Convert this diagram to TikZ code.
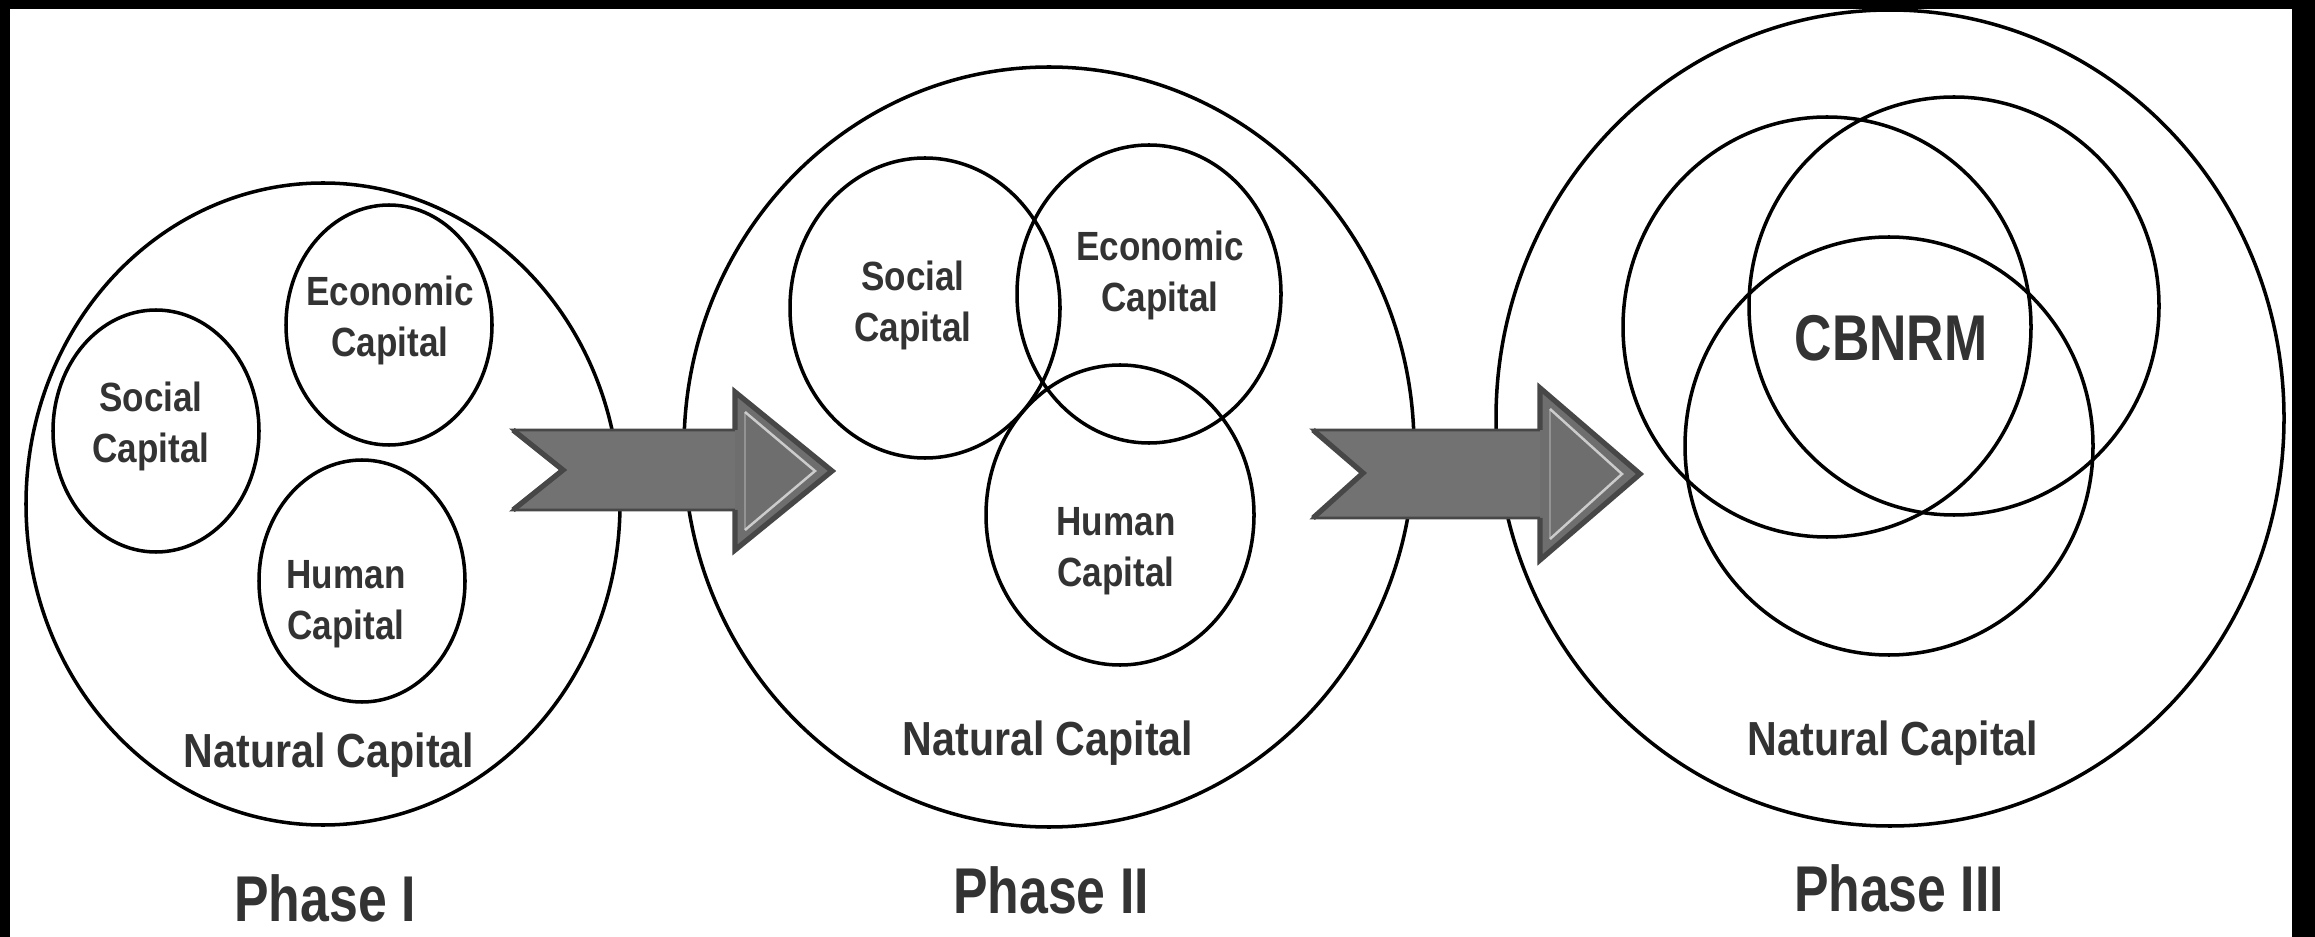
\documentclass[tikz,border=0pt]{standalone}
\usepackage{fontspec}
\setmainfont{Liberation Sans}
\newfontfamily\labelfont[FakeStretch=0.86]{Liberation Sans}
\newfontfamily\titlefont[FakeStretch=0.8]{Liberation Sans}

\definecolor{inkgray}{HTML}{333333}
\definecolor{arrowdark}{HTML}{474747}
\definecolor{arrowmid}{HTML}{727272}
\definecolor{arrowlight}{HTML}{9C9CA2}
\definecolor{arrowhead}{HTML}{6E6E6E}

\begin{document}
\begin{tikzpicture}[x=0.01cm,y=-0.01cm,
		ring/.style={line width=1pt},
		lbl/.style={text=inkgray,font=\labelfont\fontsize{11.6}{14.5}\selectfont\bfseries,align=center,inner sep=0pt},
		natlbl/.style={text=inkgray,font=\labelfont\fontsize{13.6}{15}\selectfont\bfseries,inner sep=0pt},
		phaselbl/.style={text=inkgray,font=\titlefont\fontsize{18.4}{20}\selectfont\bfseries,inner sep=0pt},
		arrowbody/.style={draw=arrowdark,line width=0.8pt,line join=miter,
			left color=arrowmid,middle color=arrowlight,right color=arrowmid},
		arrowtip/.style={draw=arrowdark,line width=1.5pt,line join=miter},
		bevel/.style={draw=gray!40,line width=0.7pt,line join=miter}]
	\useasboundingbox (0,0) rectangle (2315,937);
	\fill[white] (0,0) rectangle (2315,937);
	% frame
	\fill[black] (0,0) rectangle (2315,9);
	\fill[black] (0,0) rectangle (10,937);
	\fill[black] (2292,0) rectangle (2315,937);

	% Phase I
	\draw[ring] (323,504) ellipse [x radius=297, y radius=321];
	\draw[ring] (156,431) ellipse [x radius=103, y radius=121];
	\draw[ring] (389,325) ellipse [x radius=103, y radius=120];
	\draw[ring] (362,581) ellipse [x radius=103, y radius=121];
	\node[lbl] (social1) at (151,426) {Social\\Capital};
	\node[lbl] (econ1) at (390,320) {Economic\\Capital};
	\node[lbl] (human1) at (346,604) {Human\\Capital};
	\node[natlbl] (natural1) at (329,755) {Natural Capital};
	\node[phaselbl] (phase1) at (325,898) {Phase I};

	% Phase II
	\draw[ring] (1049,447) ellipse [x radius=365, y radius=380];
	\draw[ring] (925,308) ellipse [x radius=135, y radius=150];
	\draw[ring] (1149,294) ellipse [x radius=132, y radius=149];
	\draw[ring] (1120,515) ellipse [x radius=134, y radius=150];
	\node[lbl] (social2) at (913,305) {Social\\Capital};
	\node[lbl] (econ2) at (1160,275) {Economic\\Capital};
	\node[lbl] (human2) at (1116,551) {Human\\Capital};
	\node[natlbl] (natural2) at (1048,743) {Natural Capital};
	\node[phaselbl] (phase2) at (1051,890) {Phase II};

	% Phase III
	\draw[ring] (1890,418) ellipse [x radius=394, y radius=408];
	\draw[ring] (1827,327) ellipse [x radius=204, y radius=210];
	\draw[ring] (1954,306) ellipse [x radius=205, y radius=209];
	\draw[ring] (1889,446) ellipse [x radius=204, y radius=209];
	\node[phaselbl] (cbnrm) at (1891,338) {CBNRM};
	\node[natlbl] (natural3) at (1893,743) {Natural Capital};
	\node[phaselbl] (phase3) at (1899,888) {Phase III};

	% arrows between phases
	\shadedraw[arrowbody]
		(513,430) -- (735,430) -- (735,392) -- (832,471) -- (735,550) -- (735,510) -- (513,510) -- (563,470) -- cycle;
	\fill[arrowhead] (735,392) -- (832,471) -- (735,550) -- cycle;
	\draw[arrowtip] (735,430) -- (735,392) -- (832,471) -- (735,550) -- (735,510);
	\draw[arrowtip] (513,430) -- (563,470) -- (513,510);
	\draw[bevel] (745,412) -- (815,471) -- (745,530);
	\draw[bevel,draw opacity=0.4] (745,412) -- (745,530);
	\shadedraw[arrowbody]
		(1313,430) -- (1540,430) -- (1540,388) -- (1640,474) -- (1540,560) -- (1540,518) -- (1313,518) -- (1363,473) -- cycle;
	\fill[arrowhead] (1540,388) -- (1640,474) -- (1540,560) -- cycle;
	\draw[arrowtip] (1540,430) -- (1540,388) -- (1640,474) -- (1540,560) -- (1540,518);
	\draw[arrowtip] (1313,430) -- (1363,473) -- (1313,518);
	\draw[bevel] (1550,409) -- (1622,474) -- (1550,539);
	\draw[bevel,draw opacity=0.4] (1550,409) -- (1550,539);
\end{tikzpicture}
\end{document}
